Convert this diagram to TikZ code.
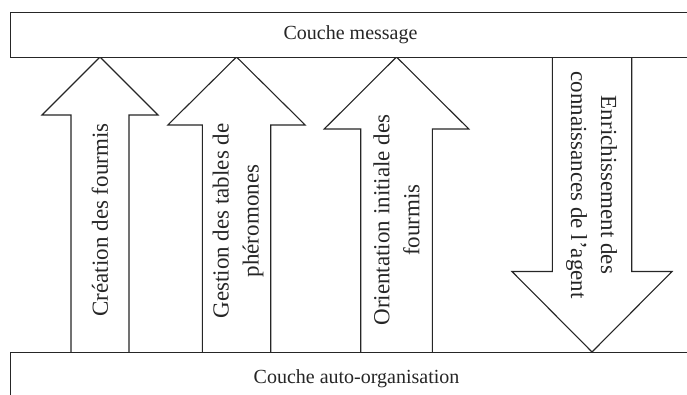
\documentclass[tikz,border=0pt]{standalone}
\usepackage{fontspec}
\setmainfont{Liberation Serif}
\begin{document}
\begin{tikzpicture}[x=1pt,y=-1pt,
  ink/.style={draw=black!85, line width=1.1pt, line join=miter},
  layer/.style={ink, fill=white, inner sep=0pt, text=black!85,
    font=\fontsize{20}{24}\selectfont},
  blockarrow/.style={ink, fill=white},
  flowlabel/.style={inner sep=0pt, align=center, text=black!85,
    font=\fontsize{23}{30}\selectfont},
]
\useasboundingbox (0,0) rectangle (687,394);
\clip (0,0) rectangle (687,394);

% upward block arrows (auto-organisation -> message)
\draw[blockarrow] (71,352) -- (71,115) -- (42,115) -- (100,57)
  -- (158,115) -- (129,115) -- (129,352);
\draw[blockarrow] (202.3,352) -- (202.3,125) -- (167.8,125) -- (236.5,57)
  -- (305.2,125) -- (270.7,125) -- (270.7,352);
\draw[blockarrow] (360.7,352) -- (360.7,129) -- (324.2,129) -- (396.5,57)
  -- (468.8,129) -- (432.3,129) -- (432.3,352);
% downward block arrow (message -> auto-organisation)
\draw[blockarrow] (552.3,57) -- (552.3,271.5) -- (512,271.5) -- (592,352)
  -- (672,271.5) -- (631.7,271.5) -- (631.7,57);

% the two layers
\node[layer, minimum width=680, minimum height=45, anchor=north west]
  (msg) at (10,12) {Couche message};
\node[layer, minimum width=692, minimum height=52, anchor=north west]
  (auto) at (10,352) {Couche auto-organisation};

% arrow labels
\node[flowlabel, rotate=90] (creation) at (100,220) {Création des fourmis};
\node[flowlabel, rotate=90] (gestion) at (238,221)
  {Gestion des tables de\\phéromones};
\node[flowlabel, rotate=90] (orient) at (396.5,220)
  {Orientation initiale des\\fourmis};
\node[flowlabel, rotate=-90] (enrich) at (591.5,185)
  {Enrichissement des\\connaissances de l’agent};
\end{tikzpicture}
\end{document}
